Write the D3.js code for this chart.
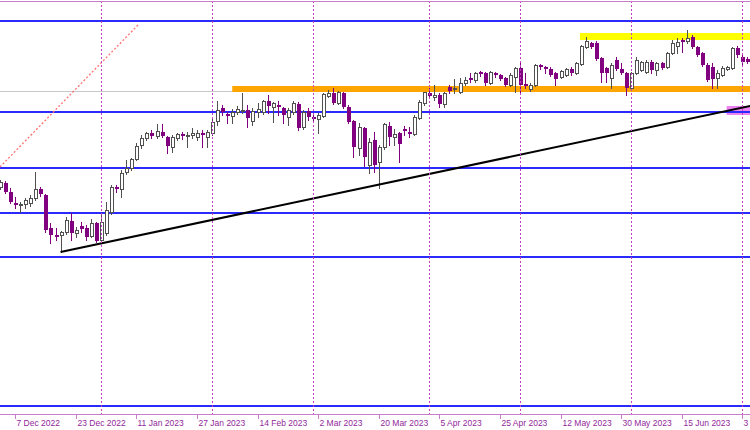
<!DOCTYPE html>
<html><head><meta charset="utf-8">
<script src="https://cdn.jsdelivr.net/npm/d3@7"></script>
<style>html,body{margin:0;padding:0;background:#fff;overflow:hidden}</style>
</head><body><svg id="c" width="750" height="430"></svg>
<script>
// Daily candles (bar index 0..148), prices
const openP = [
14556,14604,14496,14364,14340,14352,14364,14424,14532,14460,
14064,13980,13980,14016,14148,14004,14088,14064,13968,14124,
13920,14004,14256,14556,14532,14736,14784,14892,15060,15144,
15204,15168,15216,15156,15036,15144,15192,15168,15180,15156,
15204,15156,15204,15348,15504,15432,15408,15456,15468,15480,
15348,15456,15456,15588,15516,15540,15504,15396,15456,15552,
15276,15468,15396,15372,15408,15648,15684,15564,15684,15516,
15348,15024,15264,14820,15120,14856,15036,15288,15156,15204,
15252,15216,15192,15384,15564,15684,15636,15660,15552,15756,
15732,15696,15804,15864,15840,15936,15924,15804,15924,15900,
15864,15780,15876,15984,15792,15732,15780,16020,15996,15972,
15924,15876,15900,15972,15924,16032,16236,16284,16284,16104,
15984,15864,16080,15972,15924,15744,15924,15960,15936,16056,
15960,16044,15996,16164,16248,16320,16308,16356,16236,16164,
16020,15996,15864,15900,15972,15984,16224,16116,16092];
const highP = [
14640,14628,14544,14436,14376,14424,14460,14736,14556,14472,
14124,14064,14028,14196,14244,14076,14136,14100,14172,14136,
14244,14376,14580,14580,14760,14880,14904,15084,15180,15216,
15240,15312,15312,15168,15180,15204,15216,15216,15264,15240,
15240,15240,15384,15588,15540,15456,15492,15528,15684,15540,
15504,15564,15600,15660,15576,15588,15516,15504,15588,15576,
15480,15504,15420,15444,15684,15720,15744,15708,15696,15540,
15360,15324,15276,15144,15216,15060,15324,15336,15252,15216,
15288,15276,15420,15600,15696,15744,15780,15684,15696,15780,
15852,15864,15876,15924,15936,15948,15936,15948,15936,15912,
15876,15924,15996,16056,15924,15804,16032,16032,16008,15996,
15936,15960,15984,15996,16056,16260,16356,16296,16308,16116,
15996,16044,16116,16044,15936,15936,16116,16068,16080,16080,
16056,16056,16176,16320,16344,16344,16440,16380,16248,16176,
16044,16044,15960,16008,16008,16236,16248,16140,16116];
const lowP = [
14532,14484,14364,14304,14256,14304,14328,14400,14448,14016,
13884,13920,13776,13992,13920,13956,14016,13920,13956,13896,
13896,13980,14232,14496,14436,14712,14760,14880,15024,15120,
15144,15144,15156,14964,14976,15120,15132,15036,15144,15120,
15036,15036,15180,15300,15420,15324,15324,15432,15444,15276,
15300,15396,15432,15444,15336,15420,15324,15300,15432,15240,
15252,15360,15348,15204,15396,15636,15552,15552,15504,15324,
14916,14940,14808,14724,14736,14544,15012,15060,15060,14856,
15180,15156,15180,15372,15540,15624,15600,15516,15516,15684,
15684,15684,15780,15816,15816,15888,15780,15792,15876,15840,
15768,15768,15696,15696,15744,15708,15768,15972,15924,15888,
15780,15864,15888,15900,15912,16020,16224,16224,16080,15816,
15816,15744,15960,15912,15660,15732,15912,15948,15924,15924,
15900,15972,15984,16152,16164,16176,16284,16224,16128,16008,
15828,15744,15744,15888,15960,15972,16116,16032,16044];
const closeP = [
14616,14496,14376,14340,14352,14400,14424,14532,14472,14040,
13980,13956,14016,14160,14004,14040,14052,13956,14124,13908,
14136,14280,14556,14532,14724,14784,14892,15048,15144,15204,
15168,15228,15168,15048,15156,15192,15168,15180,15204,15204,
15180,15216,15336,15480,15456,15408,15456,15492,15480,15384,
15468,15492,15588,15528,15564,15516,15420,15480,15564,15264,
15456,15396,15372,15420,15672,15684,15564,15696,15516,15336,
15036,15276,14916,15096,14820,15036,15312,15156,15192,15072,
15228,15192,15396,15576,15696,15648,15660,15552,15684,15708,
15744,15804,15840,15840,15924,15912,15804,15936,15900,15852,
15780,15900,15984,15780,15768,15780,16020,15996,15972,15900,
15852,15948,15972,15924,16044,16248,16308,16236,16092,15924,
15924,16020,15972,15924,15744,15924,16080,16056,16056,15960,
16044,15984,16164,16284,16296,16296,16344,16236,16140,16020,
15840,15852,15924,15984,15996,16224,16140,16056,16056];

// Time axis
const tickIdx = [3,15,27,39,51,63,75,87,99,111,123,135,147];
const tickLabels = ["7 Dec 2022","23 Dec 2022","11 Jan 2023","27 Jan 2023","14 Feb 2023","2 Mar 2023","20 Mar 2023","5 Apr 2023","25 Apr 2023","12 May 2023","30 May 2023","15 Jun 2023","3 Jul 2023"];
const monthStartIdx = [20,42,62,85,103,125,147];

// Drawn objects
const levelPrices = [16548,15456,14784,14244,13716,11928];
const lastPrice = [15708];
const zoneStart = [46,114.85,143.9];
const zoneTop = [15768,16404,15528];
const zoneBottom = [15696,16320,15420];
const trendIdx = [12,148.6];
const trendPrice = [13776,15528];
const fanIdx = [0,27.34];
const fanPrice = [14796,16500];

const W = 750, H = 430, plotBottom = 414;
const svg = d3.select('#c');
const x = d3.scaleLinear().domain([0,149]).range([-0.05, -0.05 + 149*5.05]);
const y = d3.scaleLinear().domain([16800, 11640]).range([0, 430]);
const px = v => Math.round(x(v)) + 0.5;
const py = v => Math.round(y(v)) + 0.5;

svg.append('rect').attr('width',W).attr('height',H).attr('fill','#fff');
svg.append('defs').append('clipPath').attr('id','plot')
  .append('rect').attr('x',0).attr('y',1).attr('width',W).attr('height',plotBottom-1);
const plot = svg.append('g').attr('clip-path','url(#plot)');

// last price gray line
plot.selectAll('.lp').data(lastPrice).join('line')
  .attr('x1',0).attr('x2',W).attr('y1',d=>py(d)).attr('y2',d=>py(d))
  .attr('stroke','#c8c8c8').attr('stroke-width',1);

// zones
const zoneColors = ['#ffa500','#ffff00','#ee82ee'];
plot.selectAll('.zone').data(zoneStart).join('rect')
  .attr('x',d=>x(d)).attr('width',(d)=>W - x(d) + 2)
  .attr('y',(d,i)=>y(zoneTop[i])).attr('height',(d,i)=>y(zoneBottom[i]) - y(zoneTop[i]))
  .attr('fill',(d,i)=>zoneColors[i]);

// horizontal blue levels
plot.selectAll('.lvl').data(levelPrices).join('line')
  .attr('x1',0).attr('x2',W).attr('y1',d=>y(d)).attr('y2',d=>y(d))
  .attr('stroke','#2a2aff').attr('stroke-width',1.8);

// month separators
svg.selectAll('.sep').data(monthStartIdx).join('line')
  .attr('x1',d=>px(d)).attr('x2',d=>px(d)).attr('y1',1).attr('y2',plotBottom)
  .attr('stroke','#c040c0').attr('stroke-width',1).attr('stroke-dasharray','2,2');

// candles
const idx = d3.range(openP.length);
const bullCol = '#505050', bearCol = '#800080';
const cg = plot.append('g');
cg.selectAll('.wick').data(idx).join('line')
  .attr('x1',d=>px(d)).attr('x2',d=>px(d))
  .attr('y1',d=>Math.round(y(highP[d]))).attr('y2',d=>Math.round(y(lowP[d]))+1)
  .attr('stroke',d=>closeP[d]>=openP[d]?bullCol:bearCol).attr('stroke-width',1);
cg.selectAll('.body').data(idx).join('rect')
  .attr('x',d=> closeP[d]>=openP[d] ? px(d)-1 : px(d)-1.5)
  .attr('width',d=> closeP[d]>=openP[d] ? 3 : 4)
  .attr('y',d=>{const t=Math.round(y(Math.max(openP[d],closeP[d]))); return closeP[d]>=openP[d]? t+0.5 : t;})
  .attr('height',d=>{const t=Math.round(y(Math.max(openP[d],closeP[d]))), b=Math.round(y(Math.min(openP[d],closeP[d])));
     return closeP[d]>=openP[d] ? Math.max(b-t,0.01) : Math.max(b-t,1);})
  .attr('fill',d=>closeP[d]>=openP[d]?'#fff':bearCol)
  .attr('stroke',d=>closeP[d]>=openP[d]?bullCol:'none').attr('stroke-width',1);

// trend line
const lineGen = d3.line().x(d=>x(d[0])).y(d=>y(d[1]));
plot.append('path').datum(trendIdx.map((d,i)=>[d,trendPrice[i]]))
  .attr('d',lineGen).attr('stroke','#000').attr('stroke-width',2).attr('fill','none');
plot.append('path').datum(fanIdx.map((d,i)=>[d,fanPrice[i]]))
  .attr('d',lineGen).attr('stroke','#ff7070').attr('stroke-width',1.3).attr('stroke-dasharray','2,2').attr('fill','none');

// frame
const frameCol = '#c77dc7';
svg.append('line').attr('x1',0).attr('x2',W).attr('y1',1.5).attr('y2',1.5).attr('stroke',frameCol);
svg.append('line').attr('x1',0).attr('x2',W).attr('y1',plotBottom+0.5).attr('y2',plotBottom+0.5).attr('stroke',frameCol);

// axis ticks and labels
const ax = svg.append('g');
ax.selectAll('.tk').data(tickIdx).join('line')
  .attr('x1',d=>px(d)).attr('x2',d=>px(d)).attr('y1',plotBottom+1).attr('y2',plotBottom+5)
  .attr('stroke',frameCol);
ax.selectAll('.tl').data(tickIdx).join('text')
  .attr('x',d=>px(d)+1).attr('y',426)
  .attr('font-family','Liberation Sans, Arial, sans-serif').attr('font-size',8.5)
  .attr('fill','#92279a')
  .text((d,i)=>tickLabels[i]);
</script>
</body></html>
